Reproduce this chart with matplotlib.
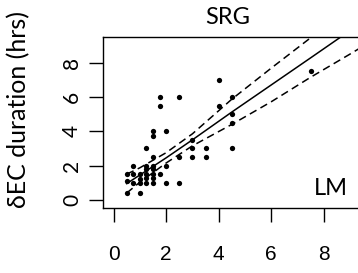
import numpy as np
import matplotlib
matplotlib.use('Agg')
import matplotlib.pyplot as plt

# data
x_hrs = [0.5, 1.0, 0.5, 0.5, 0.75, 1.0, 1.25, 1.5, 2.0, 2.5,
         0.75, 1.0, 1.25, 1.5, 1.75, 1.0, 1.25, 1.5,
         0.75, 1.25, 1.25, 1.5, 1.5, 2.0,
         1.5, 2.5, 3.0, 3.5, 1.25, 3.0, 3.5, 4.5, 3.0,
         1.5, 1.5, 2.0, 4.5, 4.5, 1.75, 4.0,
         1.75, 2.5, 4.5, 4.0, 7.5]
y_hrs = [0.4, 0.4, 1.1, 1.5, 1.0, 1.0, 1.0, 1.0, 1.0, 1.0,
         1.5, 1.5, 1.5, 1.5, 1.5, 1.2, 1.3, 1.3,
         2.0, 2.0, 1.8, 1.8, 2.0, 2.0,
         2.5, 2.5, 2.5, 2.5, 3.0, 3.0, 3.0, 3.0, 3.5,
         3.7, 4.0, 4.0, 4.5, 5.0, 5.5, 5.5,
         6.0, 6.0, 6.0, 7.0, 7.5]

# fitted line and 95% band
band_x = [0.5, 1, 2, 3, 4.5, 6, 7.5, 9, 10.4]
fit_y = [0.95, 1.45, 2.45, 3.5, 5.12, 6.7, 8.28, 9.87, 11.35]
upper_y = [1.5, 1.87, 2.75, 3.85, 5.87, 7.68, 9.45, 11.25, 12.9]
lower_y = [0.4, 1.03, 2.15, 3.15, 4.4, 5.72, 7.15, 8.5, 9.8]

xticks = [0, 2, 4, 6, 8]
yticks = [0, 2, 4, 6, 8]

fig = plt.figure(figsize=(3.58, 2.73), dpi=100)
ax = fig.add_axes([103 / 358, 65 / 273, 284 / 358, 171 / 273])

ax.plot(x_hrs, y_hrs, 'o', color='black', ms=3.8, mew=0)
ax.plot(band_x, fit_y, color='black', lw=1.1)
ax.plot(band_x, upper_y, color='black', lw=1.1, dashes=(5, 3))
ax.plot(band_x, lower_y, color='black', lw=1.1, dashes=(5, 3))

ax.set_xlim(-0.4, 10.4)
ax.set_ylim(-0.47, 9.49)
ax.set_xticks(xticks)
ax.set_yticks(yticks)
ax.set_xticklabels([str(v) for v in xticks], family='Liberation Sans', fontsize=15)
ax.set_yticklabels([str(v) for v in yticks], family=['Lato', 'DejaVu Sans'],
                   fontsize=15, rotation=90, va='center')
ax.tick_params(axis='x', length=10, width=1, pad=17)
ax.tick_params(axis='y', length=10, width=1, pad=5)
for sp in ax.spines.values():
    sp.set_linewidth(1)

ax.set_ylabel('\u03b4EC duration (hrs)', family=['Lato', 'DejaVu Sans'], fontsize=18)
ax.yaxis.set_label_coords(-0.255, 0.575)

fig.text(228 / 358, 1 - 18 / 273, 'SRG', family=['Lato', 'DejaVu Sans'],
         fontsize=17, ha='center', va='center')
fig.text(348 / 358, 1 - 195 / 273, 'LM', family=['Lato', 'DejaVu Sans'],
         fontsize=17, ha='right', va='baseline')

fig.savefig('out.png', dpi=100)
